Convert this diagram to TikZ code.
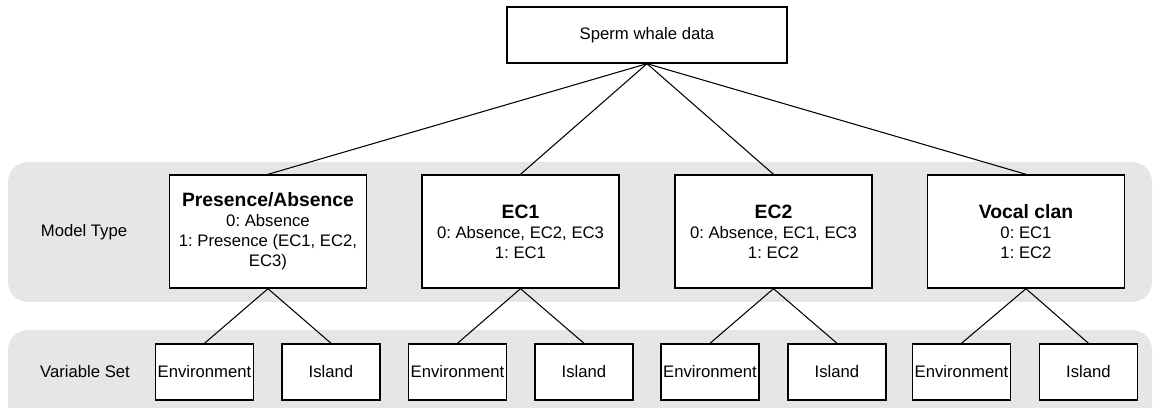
\documentclass[tikz,border=0pt]{standalone}
\usepackage{fontspec}
\setmainfont{Liberation Sans}
\frenchspacing

\definecolor{bandgray}{HTML}{E6E6E6}
\newcommand{\ttl}[1]{{\fontsize{11}{11.3}\selectfont\bfseries #1}}

\tikzset{
  txt/.style={font=\fontsize{9.5}{11.3}\selectfont, align=center, inner sep=0pt},
  topbox/.style={txt, draw, line width=0.8pt, fill=white, minimum width=5.6cm, minimum height=1.12cm},
  modelbox/.style={txt, draw, line width=0.8pt, fill=white, minimum width=3.94cm, minimum height=2.26cm},
  varbox/.style={txt, draw, line width=0.8pt, fill=white, minimum width=1.96cm, minimum height=1.12cm},
  link/.style={line width=0.6pt}
}

\begin{document}
\begin{tikzpicture}[x=0.02cm, y=-0.02cm]
\useasboundingbox (0,0) rectangle (1154,408);

% bands
\fill[bandgray, rounded corners=0.4cm] (8,162) rectangle (1152,302);
\fill[bandgray, rounded corners=0.4cm] (8,330) rectangle (1152,430);
\node[txt] (lblmodel) at (84,232) {Model Type};
\node[txt] (lblvar) at (85,372) {Variable Set};

% top
\node[topbox] (data) at (647,35) {Sperm whale data};

% model types
\node[modelbox] (pa) at (268,231.5) {\ttl{Presence/Absence}\\0: Absence\\1: Presence (EC1, EC2,\\EC3)};
\node[modelbox] (econe) at (520.5,231.5) {\ttl{EC1}\\0: Absence, EC2, EC3\\1: EC1};
\node[modelbox] (ectwo) at (773.5,231.5) {\ttl{EC2}\\0: Absence, EC1, EC3\\1: EC2};
\node[modelbox] (vc) at (1026,231.5) {\ttl{Vocal clan}\\0: EC1\\1: EC2};

% variable sets
\node[varbox] (pa-env) at (204.5,372) {Environment};
\node[varbox] (pa-isl) at (331,372) {Island};
\node[varbox] (econe-env) at (457.5,372) {Environment};
\node[varbox] (econe-isl) at (584,372) {Island};
\node[varbox] (ectwo-env) at (710,372) {Environment};
\node[varbox] (ectwo-isl) at (837,372) {Island};
\node[varbox] (vc-env) at (961.5,372) {Environment};
\node[varbox] (vc-isl) at (1088.5,372) {Island};

% links
\draw[link] (data.south) -- (pa.north);
\draw[link] (data.south) -- (econe.north);
\draw[link] (data.south) -- (ectwo.north);
\draw[link] (data.south) -- (vc.north);

\draw[link] (pa.south) -- (pa-env.north);
\draw[link] (pa.south) -- (pa-isl.north);
\draw[link] (econe.south) -- (econe-env.north);
\draw[link] (econe.south) -- (econe-isl.north);
\draw[link] (ectwo.south) -- (ectwo-env.north);
\draw[link] (ectwo.south) -- (ectwo-isl.north);
\draw[link] (vc.south) -- (vc-env.north);
\draw[link] (vc.south) -- (vc-isl.north);

\end{tikzpicture}
\end{document}
